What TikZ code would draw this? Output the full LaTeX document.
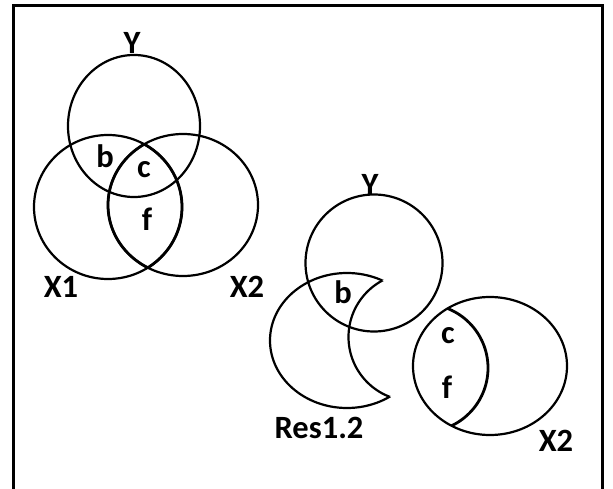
\documentclass[tikz,border=0pt]{standalone}
\usepackage{fontspec}
\setmainfont{Carlito}
\tikzset{
  ring/.style={line width=2.2pt},
  lensline/.style={line width=2.8pt},
  setlabel/.style={font=\bfseries\fontsize{32.5}{34}\selectfont, inner sep=0pt, anchor=base},
  frameline/.style={line width=3pt, line join=miter}
}
\begin{document}
\begin{tikzpicture}[x=1pt,y=-1pt]
\useasboundingbox (0,0) rectangle (613,489);
% open frame (no bottom edge)
\draw[frameline] (13.5,495) -- (13.5,5.5) -- (602.5,5.5) -- (602.5,495);

% --- three-set diagram: Y, X1, X2 ---
\draw[ring] (134,126) ellipse [x radius=66pt, y radius=71pt];
\draw[ring] (108,207) ellipse [x radius=74pt, y radius=72pt];
\draw[ring] (183,205) ellipse [x radius=75pt, y radius=71pt];
% bolder outline of the X1/X2 overlap
\begin{scope}
  \clip (108,207) ellipse [x radius=74pt, y radius=72pt];
  \draw[lensline] (183,205) ellipse [x radius=75pt, y radius=71pt];
\end{scope}
\begin{scope}
  \clip (183,205) ellipse [x radius=75pt, y radius=71pt];
  \draw[lensline] (108,207) ellipse [x radius=74pt, y radius=72pt];
\end{scope}

\node[setlabel] (yA)  at (132,54)  {Y};
\node[setlabel] (x1A) at (61,297)  {X1};
\node[setlabel] (x2A) at (247,297) {X2};
\node[setlabel] (bA)  at (105,168) {b};
\node[setlabel] (cA)  at (144,178) {c};
\node[setlabel] (fA)  at (147,231) {f};

% --- Y with the residual crescent Res1.2 ---
\draw[ring] (374,263) circle [radius=68.5pt];
\begin{scope}[even odd rule]
  \clip (0,0) rectangle (613,489) (412.5,337) circle [radius=64pt];
  \draw[ring] (347,340.5) ellipse [x radius=77pt, y radius=67.5pt];
\end{scope}
\begin{scope}
  \clip (347,340.5) ellipse [x radius=77pt, y radius=67.5pt];
  \draw[ring] (412.5,337) circle [radius=64pt];
\end{scope}

\node[setlabel] (yB)   at (370,196) {Y};
\node[setlabel] (bB)   at (343,303) {b};
\node[setlabel] (resB) at (319,438) {Res1.2};

% --- X2 with the c/f part marked off ---
\draw[ring] (490,366) ellipse [x radius=77pt, y radius=69pt];
\begin{scope}
  \clip (490,366) ellipse [x radius=77pt, y radius=69pt];
  \draw[lensline] (424,368) circle [radius=64pt];
\end{scope}

\node[setlabel] (cB)  at (448,343) {c};
\node[setlabel] (fB)  at (447,398) {f};
\node[setlabel] (x2B) at (556,451) {X2};
\end{tikzpicture}
\end{document}
